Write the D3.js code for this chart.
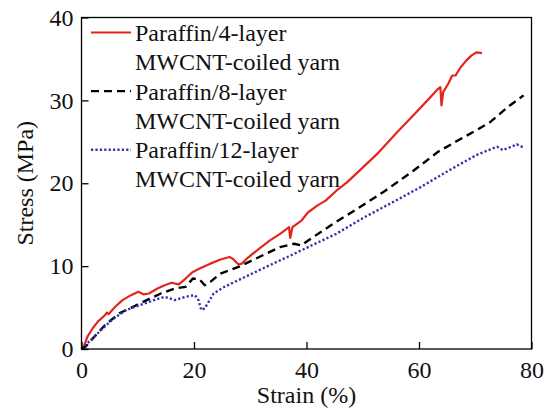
<!DOCTYPE html>
<html><head><meta charset="utf-8">
<script src="https://cdn.jsdelivr.net/npm/d3@7"></script>
<style>body{margin:0;background:#fff}svg{display:block}</style>
</head><body><svg id="c" width="549" height="412" font-family="Liberation Serif"></svg>
<script>
const seriesNames = ["Paraffin/4-layer|MWCNT-coiled yarn","Paraffin/8-layer|MWCNT-coiled yarn","Paraffin/12-layer|MWCNT-coiled yarn"];
const xTicks = [0,20,40,60,80];
const yTicks = [0,10,20,30,40];
const red = [[0,0],[0.4,0.3],[1.06,1.5],[2.0,2.5],[2.9,3.3],[4.2,4.1],[4.5,4.4],[4.8,4.2],[6.0,5.1],[7.3,5.9],[8.8,6.5],[10.1,6.9],[11.0,6.6],[12.0,6.7],[13.5,7.3],[14.8,7.7],[16.0,8.0],[17.3,7.8],[18.5,8.5],[19.8,9.3],[21.0,9.7],[22.9,10.3],[24.7,10.8],[26.3,11.1],[26.9,10.9],[27.9,10.2],[28.5,10.3],[29.7,11.1],[31.6,12.1],[33.5,13.1],[35.3,13.9],[36.9,14.7],[37.1,13.4],[37.5,14.7],[39.1,15.5],[40.3,16.5],[41.9,17.3],[43.4,17.9],[45.3,19.1],[47.2,20.1],[49.7,21.7],[52.8,23.7],[55.9,26.0],[59.0,28.2],[61.5,30.0],[63.4,31.4],[63.8,31.6],[64.0,29.4],[64.3,31.0],[65.2,32.0],[65.9,33.0],[66.5,33.0],[67.4,34.0],[68.4,34.8],[69.3,35.4],[70.2,35.8],[71.2,35.7]];
const black = [[0,0],[0.75,0.3],[2.3,1.5],[4.2,2.9],[6.7,4.3],[9.2,5.1],[11.6,5.9],[14.1,6.7],[16.6,7.3],[18.5,7.5],[19.8,8.5],[21.0,8.4],[21.9,7.7],[22.9,8.1],[24.7,9.1],[27.9,9.9],[31.6,11.1],[35.3,12.3],[37.8,12.7],[39.1,12.5],[40.3,13.1],[44.7,15.1],[49.0,16.9],[54.0,19.1],[59.0,21.5],[63.4,23.8],[66.5,25.0],[70.2,26.4],[72.7,27.4],[75.8,29.2],[78.6,30.6]];
const blue = [[0,0],[1.06,0.7],[2.9,1.9],[5.4,3.5],[7.9,4.7],[10.4,5.3],[12.9,5.9],[14.8,6.3],[16.6,5.9],[18.5,6.3],[20.1,6.5],[20.7,6.1],[21.3,4.7],[21.9,4.9],[23.5,6.7],[25.4,7.5],[29.1,8.7],[32.8,9.9],[36.6,11.1],[40.3,12.3],[45.3,13.9],[50.3,15.9],[55.3,17.7],[60.2,19.5],[65.2,21.5],[70.2,23.4],[72.7,24.1],[73.9,24.4],[74.9,24.0],[76.4,24.4],[77.4,24.7],[78.6,24.3]];

const FONT = "Liberation Serif";
const svg = d3.select("#c");
const L=81.5,R=531.5,T=17.5,B=349;
const x = d3.scaleLinear().domain([0,80]).range([L,R]);
const y = d3.scaleLinear().domain([0,40]).range([B,T]);
const fs = 24;

const styles = [
  {data:red, color:"#e3261d", dash:null, w:2.2},
  {data:black, color:"#000", dash:"8,5", w:2.4},
  {data:blue, color:"#3a2fae", dash:"2.2,2.2", w:2.4}
];
const line = d3.line().x(d=>x(d[0])).y(d=>y(d[1]));
styles.forEach(s=>{
  svg.append("path").attr("d",line(s.data)).attr("fill","none").attr("stroke",s.color)
    .attr("stroke-width",s.w).attr("stroke-dasharray",s.dash).attr("stroke-linejoin","round");
});

const gx = svg.append("g").attr("transform",`translate(0,${B})`)
  .call(d3.axisBottom(x).tickValues(xTicks).tickSizeInner(-7).tickSizeOuter(0).tickPadding(12));
const gy = svg.append("g").attr("transform",`translate(${L},0)`)
  .call(d3.axisLeft(y).tickValues(yTicks).tickSizeInner(-7).tickSizeOuter(0).tickPadding(8));
[gx,gy].forEach(g=>{g.attr("font-family",FONT).attr("font-size",fs);g.select(".domain").remove();g.selectAll("line").attr("stroke","#000").attr("stroke-width",1.3);
  g.selectAll("text").attr("fill","#111");});
svg.append("rect").attr("x",L).attr("y",T).attr("width",R-L).attr("height",B-T).attr("fill","none").attr("stroke","#000").attr("stroke-width",1.3);

svg.append("text").attr("x",(L+R)/2).attr("y",403).attr("text-anchor","middle").attr("font-size",fs).attr("fill","#111").text("Strain (%)");
svg.append("text").attr("transform",`translate(33,${(T+B)/2}) rotate(-90)`).attr("text-anchor","middle").attr("font-size",fs).attr("fill","#111").text("Stress (MPa)");

const lg = svg.append("g");
const lineH = 29.3;
styles.forEach((s,i)=>{
  const yy = 32.5 + i*2*lineH;
  lg.append("line").attr("x1",91).attr("x2",131).attr("y1",yy).attr("y2",yy).attr("stroke",s.color)
    .attr("stroke-width",s.w).attr("stroke-dasharray",s.dash);
  const parts = seriesNames[i].split("|");
  parts.forEach((p,j)=>{
    lg.append("text").attr("x",135).attr("y",yy+j*lineH).attr("dy","0.35em").attr("font-size",fs).attr("fill","#111").text(p);
  });
});
</script></body></html>
